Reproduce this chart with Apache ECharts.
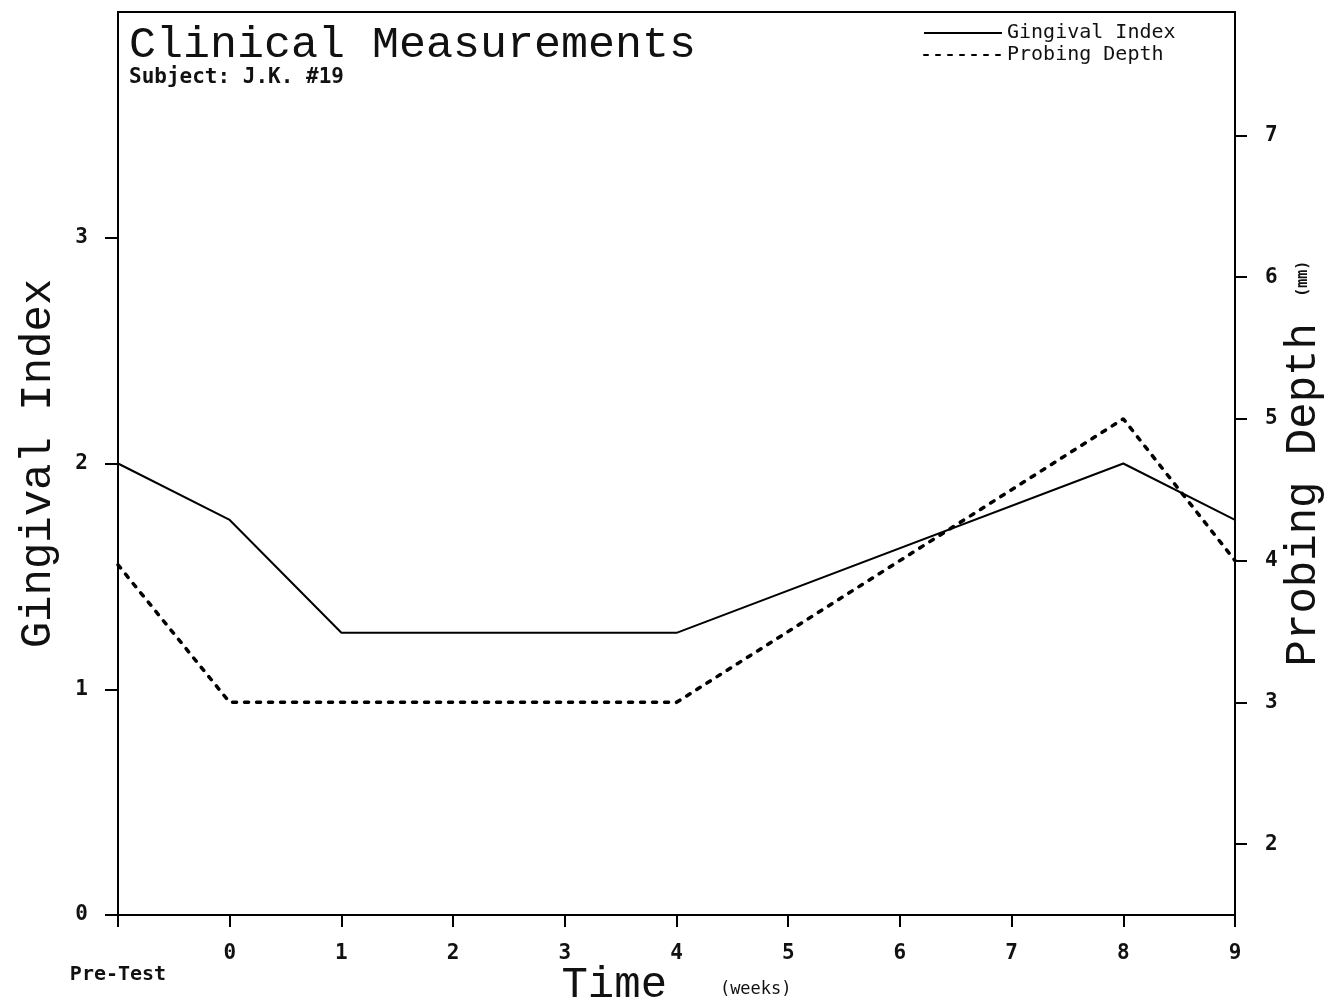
<!DOCTYPE html>
<html>
<head>
<meta charset="utf-8">
<title>Clinical Measurements</title>
<script src="https://cdn.jsdelivr.net/npm/echarts@6/dist/echarts.min.js"></script>
<style>
  html, body { margin: 0; padding: 0; background: #fff; }
  #chart { width: 1330px; height: 1008px; }
</style>
</head>
<body>
<div id="chart"></div>
<script>
// Time points (weeks after baseline)
const categories = ['Pre-Test', '0', '1', '2', '3', '4', '5', '6', '7', '8', '9'];

// Gingival Index per visit (left axis); visits not measured are null
const gingivalIndex = [2.0, 1.75, 1.25, null, null, 1.25, null, null, null, 2.0, 1.75];

// Probing depth in mm per visit (right axis)
const probingDepth = [3.97, 3.0, 3.0, null, null, 3.0, null, null, null, 5.0, 4.0];

// Tick values shown on each value axis
const leftTicks = [0, 1, 2, 3];
const rightTicks = [2, 3, 4, 5, 6, 7];

const thinFont = 'Liberation Mono';
const labelFont = 'DejaVu Sans Mono';

const chart = echarts.init(document.getElementById('chart'), null, { renderer: 'canvas' });

chart.setOption({
  backgroundColor: '#ffffff',
  animation: false,
  title: {
    text: 'Clinical Measurements',
    subtext: 'Subject: J.K. #19',
    left: 124,
    top: 18,
    itemGap: -1,
    textStyle: { fontFamily: thinFont, fontSize: 45, fontWeight: 'normal', color: '#111' },
    subtextStyle: { fontFamily: labelFont, fontSize: 21, fontWeight: 'bold', color: '#111' }
  },
  legend: {
    orient: 'vertical',
    left: 918,
    top: 18,
    itemWidth: 78,
    itemHeight: 12,
    itemGap: 2,
    itemStyle: { opacity: 0 },
    textStyle: { fontFamily: labelFont, fontSize: 20, color: '#111' },
    data: ['Gingival Index', 'Probing Depth']
  },
  grid: {
    left: 118,
    right: 95,
    top: 12,
    bottom: 93,
    containLabel: false,
    outerBoundsMode: 'none',
    show: true,
    borderColor: '#000',
    borderWidth: 2,
    backgroundColor: 'transparent'
  },
  xAxis: {
    type: 'category',
    data: categories,
    boundaryGap: false,
    axisLine: { lineStyle: { color: '#000', width: 2 } },
    axisTick: { show: true, inside: false, length: 12, lineStyle: { color: '#000', width: 2 } },
    axisLabel: {
      margin: 28,
      fontFamily: labelFont,
      fontSize: 21,
      fontWeight: 'bold',
      color: '#111',
      interval: 0,
      formatter: v => v === 'Pre-Test' ? '{pre|Pre-Test}' : v,
      rich: {
        pre: { fontFamily: labelFont, fontSize: 20, fontWeight: 'bold', color: '#111', padding: [22, 0, 0, 0] }
      }
    },
    splitLine: { show: false },
    name: 'Time  {s|(weeks)}',
    nameLocation: 'middle',
    nameGap: 48,
    nameMoveOverlap: false,
    nameTextStyle: {
      fontFamily: thinFont,
      fontSize: 44,
      color: '#111',
      rich: {
        s: { fontFamily: labelFont, fontSize: 17, color: '#111', padding: [10, 0, 0, 0] }
      }
    }
  },
  yAxis: [
    {
      type: 'value',
      position: 'left',
      min: 0,
      max: 4,
      axisLine: { show: true, lineStyle: { color: '#000', width: 2 } },
      axisTick: { show: true, inside: false, length: 13, customValues: leftTicks, lineStyle: { color: '#000', width: 2 } },
      axisLabel: { margin: 30, customValues: leftTicks, fontFamily: labelFont, fontSize: 21, fontWeight: 'bold', color: '#111' },
      splitLine: { show: false },
      name: 'Gingival Index',
      nameLocation: 'middle',
      nameGap: 58,
      nameMoveOverlap: false,
      nameTextStyle: { fontFamily: thinFont, fontSize: 44, color: '#111' }
    },
    {
      type: 'value',
      position: 'right',
      min: 1.5,
      max: 7.87,
      axisLine: { show: true, lineStyle: { color: '#000', width: 2 } },
      axisTick: { show: true, inside: false, length: 12, customValues: rightTicks, lineStyle: { color: '#000', width: 2 } },
      axisLabel: { margin: 30, customValues: rightTicks, fontFamily: labelFont, fontSize: 21, fontWeight: 'bold', color: '#111' },
      splitLine: { show: false },
      name: 'Probing Depth {s|(mm)}',
      nameLocation: 'middle',
      nameGap: 46,
      nameMoveOverlap: false,
      nameTextStyle: {
        fontFamily: thinFont,
        fontSize: 44,
        color: '#111',
        rich: {
          s: { fontFamily: labelFont, fontSize: 15, fontWeight: 'bold', color: '#111' }
        }
      }
    }
  ],
  series: [
    {
      name: 'Gingival Index',
      type: 'line',
      yAxisIndex: 0,
      data: gingivalIndex,
      connectNulls: true,
      symbol: 'none',
      lineStyle: { color: '#000', width: 2 },
      itemStyle: { color: '#000' }
    },
    {
      name: 'Probing Depth',
      type: 'line',
      yAxisIndex: 1,
      data: probingDepth,
      connectNulls: true,
      symbol: 'none',
      lineStyle: { color: '#000', width: 3.5, type: [4, 8], cap: 'round' },
      itemStyle: { color: '#000' }
    }
  ]
});
</script>
</body>
</html>
